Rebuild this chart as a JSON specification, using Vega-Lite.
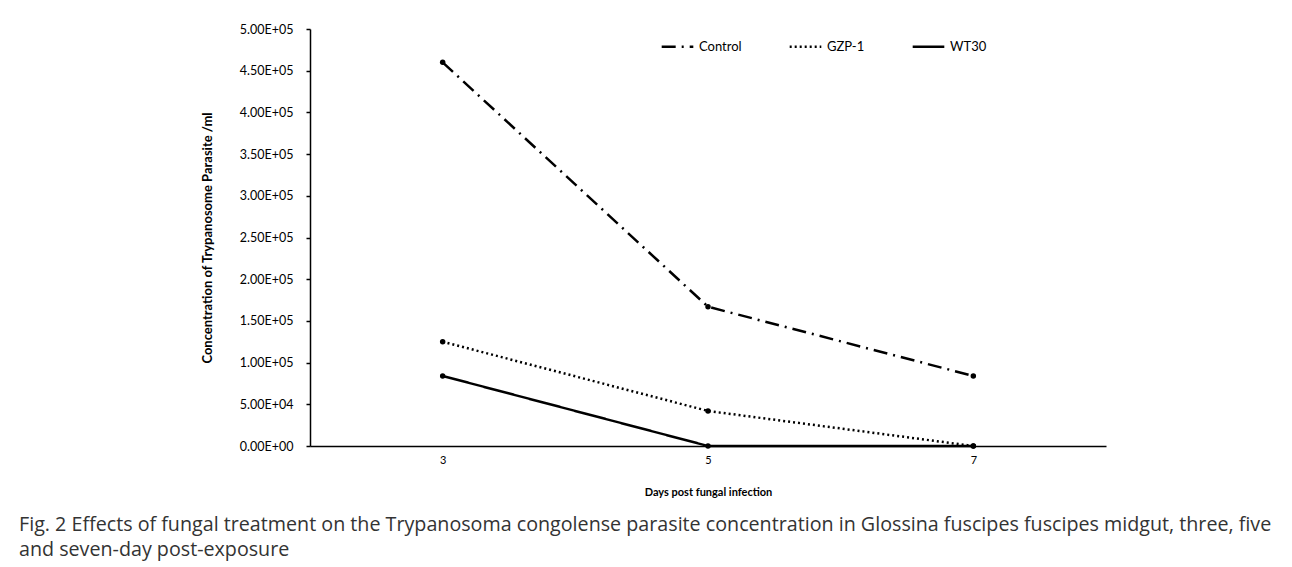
{
  "$schema": "https://vega.github.io/schema/vega-lite/v6.json",
  "autosize": {"type": "none"},
  "padding": {"left": 310, "top": 29, "right": 186, "bottom": 121},
  "width": 796,
  "height": 417,
  "background": "white",
  "config": {
    "view": {"stroke": null},
    "font": "Lato",
    "axis": {"labelFont": "Lato", "titleFont": "Lato", "labelColor": "#000", "titleColor": "#000"}
  },
  "title": {
    "text": ["Fig. 2 Effects of fungal treatment on the Trypanosoma congolense parasite concentration in Glossina fuscipes fuscipes midgut, three, five", "and seven-day post-exposure"],
    "orient": "bottom",
    "anchor": "start",
    "frame": "group",
    "dx": -291,
    "offset": 18,
    "font": "Open Sans",
    "fontSize": 19.7,
    "fontWeight": "normal",
    "color": "#333",
    "lineHeight": 25
  },
  "data": {
    "values": [
      {"day": "3", "series": "Control", "value": 460000},
      {"day": "5", "series": "Control", "value": 167000},
      {"day": "7", "series": "Control", "value": 84000},
      {"day": "3", "series": "GZP-1", "value": 125000},
      {"day": "5", "series": "GZP-1", "value": 42000},
      {"day": "7", "series": "GZP-1", "value": 0},
      {"day": "3", "series": "WT30", "value": 84000},
      {"day": "5", "series": "WT30", "value": 0},
      {"day": "7", "series": "WT30", "value": 0}
    ]
  },
  "encoding": {
    "x": {
      "field": "day", "type": "ordinal",
      "scale": {"type": "point", "padding": 0.5},
      "axis": {
        "title": "Days post fungal infection",
        "labelAngle": 0, "ticks": false, "labelPadding": 8,
        "labelFontSize": 11, "titleFontSize": 11, "titleFontWeight": "bold",
        "titlePadding": 21, "domainColor": "#000", "domainWidth": 1.5
      }
    },
    "y": {
      "field": "value", "type": "quantitative",
      "scale": {"domain": [0, 500000], "nice": false},
      "axis": {
        "title": "Concentration of Trypanosome Parasite /ml",
        "values": [0, 50000, 100000, 150000, 200000, 250000, 300000, 350000, 400000, 450000, 500000],
        "labelExpr": "datum.value == 0 ? '0.00E+00' : format(datum.value / pow(10, floor(log(datum.value) / LN10 + 1e-9)), '.2f') + 'E+' + pad('' + floor(log(datum.value) / LN10 + 1e-9), 2, '0', 'left')",
        "grid": false, "tickSize": 4, "tickColor": "#000", "tickWidth": 1.5,
        "labelPadding": 13, "labelFontSize": 12.5,
        "titleFontSize": 13, "titleFontWeight": "bold", "titlePadding": 25,
        "domainColor": "#000", "domainWidth": 1.5
      }
    }
  },
  "layer": [
    {
      "mark": {"type": "line", "color": "black", "strokeWidth": 2.5},
      "encoding": {
        "strokeDash": {
          "field": "series", "type": "nominal",
          "scale": {"domain": ["Control", "GZP-1", "WT30"], "range": [[14, 6, 2, 6], [2, 3], [1, 0]]},
          "legend": {
            "title": null, "orient": "none", "legendX": 350, "legendY": 0,
            "direction": "horizontal", "symbolType": "stroke", "symbolSize": 1000,
            "symbolStrokeColor": "black", "symbolStrokeWidth": 2.5,
            "labelFontSize": 13, "labelFont": "Lato", "labelColor": "#000",
            "columnPadding": 42, "labelOffset": 4
          }
        },
        "strokeWidth": {
          "field": "series", "type": "nominal",
          "scale": {"domain": ["Control", "GZP-1", "WT30"], "range": [2.5, 2.5, 3]},
          "legend": null
        }
      }
    },
    {
      "mark": {"type": "point", "filled": true, "color": "black", "size": 30, "opacity": 1},
      "encoding": {
        "detail": {"field": "series", "type": "nominal"}
      }
    }
  ]
}
